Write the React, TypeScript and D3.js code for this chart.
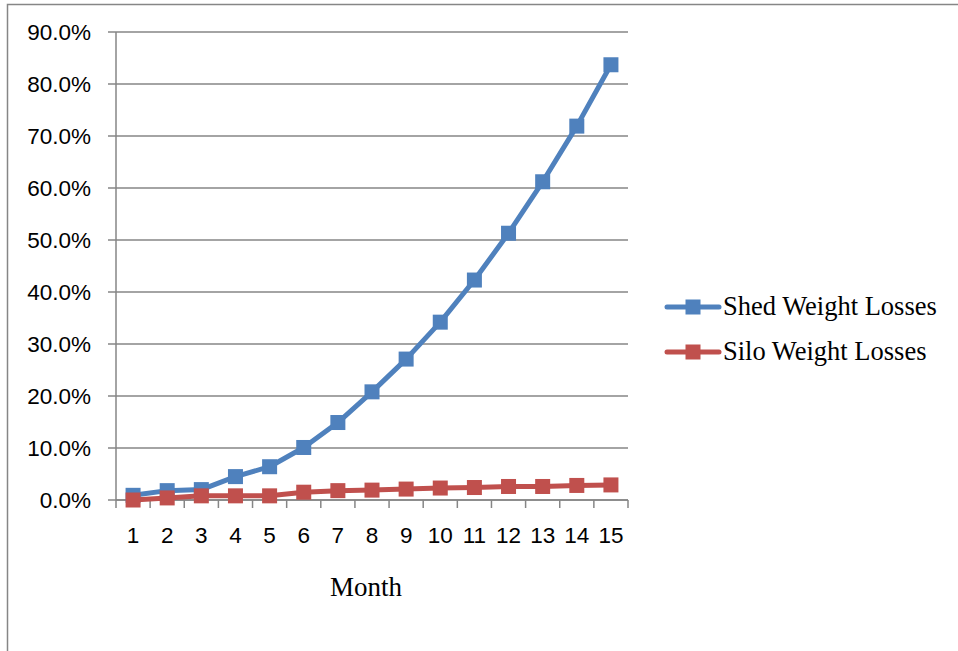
import React from "react";
import * as d3 from "d3";

const months = [1, 2, 3, 4, 5, 6, 7, 8, 9, 10, 11, 12, 13, 14, 15];
const shedLosses = [0.9, 1.8, 2.0, 4.5, 6.4, 10.1, 14.9, 20.8, 27.1, 34.2, 42.3, 51.3, 61.2, 71.9, 83.7];
const siloLosses = [0.0, 0.4, 0.8, 0.8, 0.8, 1.5, 1.8, 1.9, 2.1, 2.3, 2.4, 2.6, 2.6, 2.8, 2.9];
const yTicks = [0, 10, 20, 30, 40, 50, 60, 70, 80, 90];
const seriesNames = ["Shed Weight Losses", "Silo Weight Losses"];
const seriesColors = ["#4F81BD", "#C0504D"];
const xAxisTitle = "Month";

export default function App() {
  const W = 958, H = 651;
  const left = 116, right = 628, top = 32, bottom = 500;
  const x = d3.scaleBand<number>().domain(months).range([left, right]).padding(0);
  const y = d3.scaleLinear().domain([0, 90]).range([bottom, top]);
  const cx = (m: number) => (x(m) as number) + x.bandwidth() / 2;
  const line = d3.line<number>().x((_, i) => cx(months[i])).y((v) => y(v));
  const series = [shedLosses, siloLosses];
  const boundaries = months.map((m) => x(m) as number).concat([right]);
  const ms = 15;
  const grey = "#868686";

  return (
    <svg width={W} height={H} style={{ position: "absolute", left: 0, top: 0 }}>
      <rect x={0} y={0} width={W} height={H} fill="#fff" />
      <path d={`M7.5,${H} L7.5,4.5 L${W},4.5`} fill="none" stroke={grey} strokeWidth={1.5} />
      {yTicks.map((t) => (
        <g key={t}>
          <line x1={108} x2={right} y1={y(t)} y2={y(t)} stroke={grey} strokeWidth={1.5} />
          <text x={91} y={y(t)} dy="0.36em" textAnchor="end" fontFamily="Liberation Sans, Arial, sans-serif" fontSize={22.5} fill="#000">
            {t.toFixed(1)}%
          </text>
        </g>
      ))}
      <line x1={left} x2={left} y1={top} y2={bottom} stroke={grey} strokeWidth={1.5} />
      <line x1={left} x2={right} y1={bottom} y2={bottom} stroke={grey} strokeWidth={1.5} />
      {boundaries.map((b, i) => (
        <line key={i} x1={b} x2={b} y1={bottom} y2={bottom + 8} stroke={grey} strokeWidth={1.5} />
      ))}
      {months.map((m) => (
        <text key={m} x={cx(m)} y={543} textAnchor="middle" fontFamily="Liberation Sans, Arial, sans-serif" fontSize={22.5} fill="#000">
          {m}
        </text>
      ))}
      <text x={366} y={596} textAnchor="middle" fontFamily="Liberation Serif, Times New Roman, serif" fontSize={27} fill="#000">
        {xAxisTitle}
      </text>
      {series.map((s, si) => (
        <g key={si}>
          <path d={line(s) || ""} fill="none" stroke={seriesColors[si]} strokeWidth={5} strokeLinejoin="round" strokeLinecap="round" />
          {s.map((v, i) => (
            <rect key={i} x={cx(months[i]) - ms / 2} y={y(v) - ms / 2} width={ms} height={ms} fill={seriesColors[si]} />
          ))}
        </g>
      ))}
      {seriesNames.map((n, i) => {
        const ly = 307 + i * 45;
        return (
          <g key={n}>
            <line x1={667} x2={719} y1={ly} y2={ly} stroke={seriesColors[i]} strokeWidth={5} strokeLinecap="round" />
            <rect x={693 - ms / 2} y={ly - ms / 2} width={ms} height={ms} fill={seriesColors[i]} />
            <text x={723} y={ly + 8} fontFamily="Liberation Serif, Times New Roman, serif" fontSize={26.5} fill="#000">
              {n}
            </text>
          </g>
        );
      })}
    </svg>
  );
}
